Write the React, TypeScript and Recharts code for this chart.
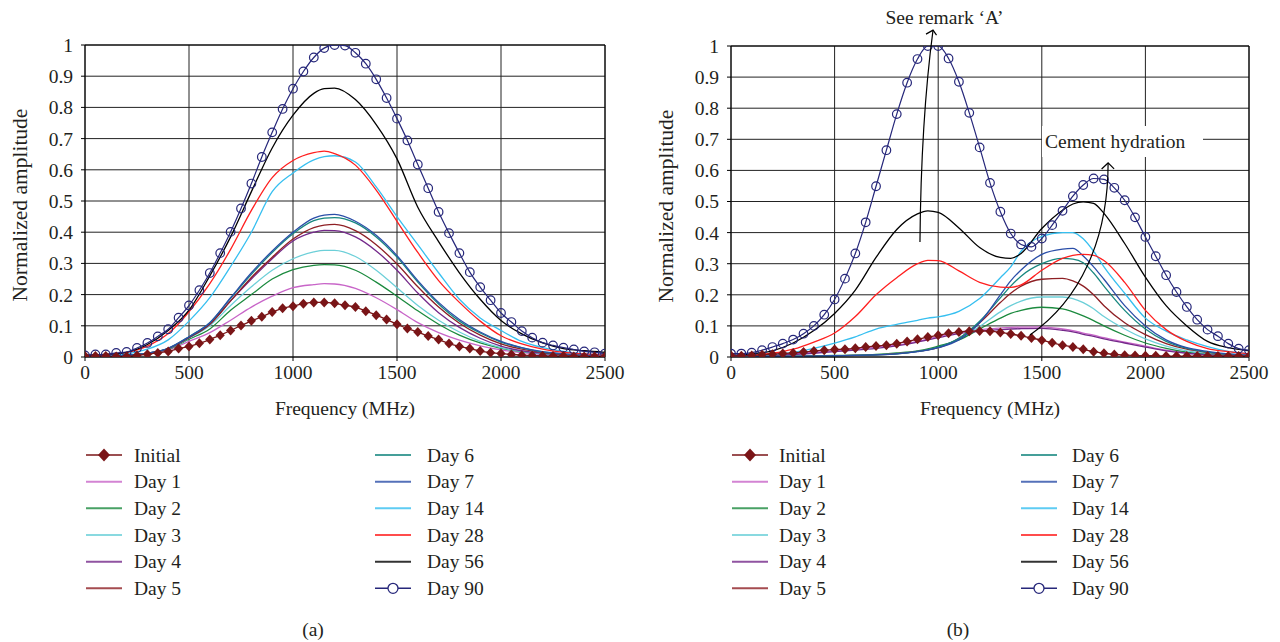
import { LineChart, Line, XAxis, YAxis, CartesianGrid, ReferenceLine } from "recharts";

const FONT = "Liberation Serif";
const INK = "#231f20";

const freq = [
  0, 50, 100, 150, 200, 250, 300, 350, 400, 450, 500, 550, 600, 650, 700, 750, 800, 850, 900, 950,
  1000, 1050, 1100, 1150, 1200, 1250, 1300, 1350, 1400, 1450, 1500, 1550, 1600, 1650, 1700, 1750,
  1800, 1850, 1900, 1950, 2000, 2050, 2100, 2150, 2200, 2250, 2300, 2350, 2400, 2450, 2500,
];
const lineFreqA = [0, 100, 200, 300, 400, 500, 600, 700, 800, 900, 1000, 1100, 1150, 1200, 1300, 1400, 1500, 1600, 1700, 1800, 1900, 2000, 2100, 2200, 2300, 2400, 2500];
const lineFreqB = [0, 100, 200, 300, 400, 500, 600, 700, 800, 900, 950, 1000, 1100, 1200, 1300, 1350, 1400, 1500, 1600, 1650, 1700, 1750, 1800, 1900, 2000, 2100, 2200, 2300, 2400, 2500];
const xTicks = [0, 500, 1000, 1500, 2000, 2500];
const yTicks = [0, 0.1, 0.2, 0.3, 0.4, 0.5, 0.6, 0.7, 0.8, 0.9, 1];

// ---- panel (a) ----
const initialA = [
  0.003, 0.003, 0.003, 0.002, 0.002, 0.005, 0.009, 0.013, 0.018, 0.027, 0.034, 0.044, 0.056, 0.07, 0.085, 0.101, 0.116,
  0.129, 0.144, 0.156, 0.163, 0.171, 0.175, 0.175, 0.172, 0.166, 0.16, 0.147, 0.134, 0.12, 0.105, 0.091, 0.08, 0.067,
  0.056, 0.043, 0.034, 0.027, 0.019, 0.014, 0.011, 0.008, 0.006, 0.005, 0.004, 0.003, 0.003, 0.002, 0.002, 0.002, 0.002,
];
const day90A = [
  0.005, 0.008, 0.008, 0.013, 0.016, 0.029, 0.045, 0.066, 0.089, 0.126, 0.165, 0.214, 0.269, 0.333, 0.401, 0.476, 0.556,
  0.641, 0.72, 0.795, 0.86, 0.915, 0.96, 0.99, 1.0, 0.998, 0.975, 0.94, 0.89, 0.83, 0.764, 0.694, 0.617, 0.541, 0.465,
  0.397, 0.333, 0.272, 0.224, 0.182, 0.141, 0.112, 0.083, 0.062, 0.046, 0.037, 0.03, 0.024, 0.018, 0.015, 0.011,
];
const day56A = [0.005, 0.008, 0.015, 0.04, 0.085, 0.15, 0.26, 0.385, 0.53, 0.67, 0.775, 0.845, 0.86, 0.862, 0.825, 0.745, 0.635, 0.48, 0.37, 0.27, 0.185, 0.117, 0.074, 0.045, 0.027, 0.02, 0.015];
const day28A = [0.005, 0.008, 0.015, 0.035, 0.075, 0.145, 0.235, 0.345, 0.47, 0.575, 0.63, 0.655, 0.66, 0.652, 0.615, 0.535, 0.435, 0.335, 0.245, 0.175, 0.115, 0.068, 0.042, 0.025, 0.015, 0.01, 0.006];
const day14A = [0.003, 0.005, 0.01, 0.025, 0.055, 0.115, 0.19, 0.29, 0.4, 0.53, 0.59, 0.632, 0.642, 0.645, 0.625, 0.545, 0.45, 0.36, 0.27, 0.185, 0.125, 0.085, 0.05, 0.03, 0.018, 0.01, 0.006];
const day7A = [0.002, 0.003, 0.005, 0.012, 0.028, 0.065, 0.11, 0.19, 0.27, 0.34, 0.4, 0.445, 0.455, 0.457, 0.435, 0.39, 0.325, 0.245, 0.175, 0.12, 0.08, 0.05, 0.03, 0.017, 0.01, 0.006, 0.004];
const day6A = [0.002, 0.003, 0.005, 0.012, 0.028, 0.065, 0.11, 0.188, 0.265, 0.335, 0.395, 0.437, 0.445, 0.447, 0.43, 0.385, 0.32, 0.24, 0.17, 0.115, 0.077, 0.048, 0.029, 0.016, 0.01, 0.006, 0.004];
const day5A = [0.002, 0.003, 0.005, 0.012, 0.027, 0.062, 0.105, 0.18, 0.255, 0.32, 0.378, 0.415, 0.423, 0.425, 0.405, 0.36, 0.298, 0.225, 0.16, 0.108, 0.07, 0.042, 0.025, 0.014, 0.008, 0.005, 0.003];
const day4A = [0.002, 0.003, 0.005, 0.012, 0.027, 0.062, 0.105, 0.18, 0.25, 0.315, 0.372, 0.4, 0.406, 0.405, 0.385, 0.34, 0.278, 0.205, 0.142, 0.095, 0.06, 0.035, 0.02, 0.012, 0.007, 0.004, 0.003];
const day3A = [0.002, 0.003, 0.005, 0.011, 0.026, 0.06, 0.1, 0.165, 0.225, 0.278, 0.315, 0.337, 0.342, 0.342, 0.322, 0.278, 0.222, 0.165, 0.118, 0.08, 0.05, 0.03, 0.018, 0.01, 0.006, 0.004, 0.003];
const day2A = [0.002, 0.003, 0.005, 0.011, 0.025, 0.057, 0.09, 0.15, 0.2, 0.25, 0.28, 0.294, 0.296, 0.295, 0.278, 0.24, 0.195, 0.148, 0.105, 0.07, 0.045, 0.028, 0.017, 0.01, 0.006, 0.004, 0.003];
const day1A = [0.002, 0.003, 0.005, 0.01, 0.022, 0.05, 0.078, 0.118, 0.16, 0.195, 0.222, 0.232, 0.235, 0.234, 0.22, 0.19, 0.152, 0.11, 0.078, 0.054, 0.036, 0.023, 0.014, 0.008, 0.005, 0.003, 0.002];

// ---- panel (b) ----
const initialB = [
  0.005, 0.004, 0.005, 0.007, 0.009, 0.011, 0.013, 0.016, 0.019, 0.022, 0.024, 0.025, 0.028, 0.032, 0.035, 0.038, 0.043,
  0.05, 0.057, 0.064, 0.07, 0.076, 0.08, 0.083, 0.084, 0.083, 0.079, 0.074, 0.068, 0.061, 0.054, 0.046, 0.038, 0.032,
  0.025, 0.017, 0.012, 0.008, 0.006, 0.005, 0.004, 0.004, 0.003, 0.003, 0.003, 0.003, 0.003, 0.003, 0.003, 0.003, 0.003,
];
const day90B = [
  0.011, 0.011, 0.014, 0.022, 0.032, 0.043, 0.056, 0.075, 0.1, 0.136, 0.185, 0.252, 0.333, 0.433, 0.549, 0.665, 0.781,
  0.882, 0.958, 1.0, 1.0, 0.96, 0.885, 0.785, 0.674, 0.56, 0.467, 0.397, 0.362, 0.354, 0.381, 0.424, 0.47, 0.517, 0.553,
  0.574, 0.571, 0.544, 0.504, 0.449, 0.386, 0.324, 0.263, 0.209, 0.161, 0.12, 0.088, 0.067, 0.043, 0.027, 0.022,
];
const day56B = [0.005, 0.01, 0.02, 0.045, 0.085, 0.14, 0.215, 0.32, 0.41, 0.46, 0.47, 0.465, 0.415, 0.352, 0.32, 0.317, 0.333, 0.413, 0.472, 0.492, 0.499, 0.494, 0.462, 0.365, 0.257, 0.165, 0.1, 0.05, 0.03, 0.02];
const day28B = [0.003, 0.006, 0.012, 0.025, 0.048, 0.077, 0.13, 0.2, 0.255, 0.3, 0.311, 0.31, 0.277, 0.24, 0.225, 0.224, 0.232, 0.279, 0.317, 0.327, 0.33, 0.327, 0.31, 0.24, 0.15, 0.088, 0.05, 0.027, 0.017, 0.01];
const day14B = [0.002, 0.004, 0.008, 0.015, 0.028, 0.045, 0.065, 0.09, 0.105, 0.118, 0.125, 0.129, 0.147, 0.188, 0.255, 0.29, 0.34, 0.388, 0.4, 0.4, 0.38, 0.34, 0.29, 0.205, 0.125, 0.083, 0.055, 0.033, 0.018, 0.01];
const day7B = [0.002, 0.002, 0.002, 0.002, 0.003, 0.004, 0.005, 0.007, 0.01, 0.017, 0.022, 0.03, 0.055, 0.11, 0.2, 0.245, 0.28, 0.33, 0.347, 0.349, 0.325, 0.29, 0.25, 0.165, 0.1, 0.055, 0.03, 0.018, 0.01, 0.006];
const day6B = [0.002, 0.002, 0.002, 0.002, 0.003, 0.004, 0.005, 0.007, 0.01, 0.018, 0.024, 0.032, 0.06, 0.115, 0.19, 0.228, 0.26, 0.3, 0.317, 0.315, 0.303, 0.27, 0.228, 0.15, 0.09, 0.05, 0.028, 0.016, 0.009, 0.005];
const day5B = [0.002, 0.002, 0.002, 0.002, 0.003, 0.004, 0.005, 0.007, 0.011, 0.018, 0.023, 0.03, 0.06, 0.11, 0.175, 0.205, 0.228, 0.25, 0.253, 0.245, 0.228, 0.2, 0.165, 0.11, 0.072, 0.043, 0.025, 0.015, 0.008, 0.005];
const day4B = [0.002, 0.003, 0.005, 0.008, 0.012, 0.017, 0.022, 0.028, 0.036, 0.048, 0.055, 0.062, 0.075, 0.083, 0.088, 0.09, 0.091, 0.092, 0.086, 0.081, 0.073, 0.066, 0.058, 0.045, 0.032, 0.02, 0.012, 0.007, 0.004, 0.003];
const day3B = [0.002, 0.002, 0.002, 0.003, 0.003, 0.004, 0.005, 0.007, 0.011, 0.018, 0.023, 0.03, 0.058, 0.098, 0.145, 0.165, 0.18, 0.193, 0.193, 0.188, 0.175, 0.155, 0.13, 0.09, 0.058, 0.035, 0.02, 0.012, 0.007, 0.004];
const day2B = [0.002, 0.002, 0.003, 0.003, 0.004, 0.005, 0.006, 0.008, 0.013, 0.02, 0.026, 0.035, 0.055, 0.09, 0.125, 0.14, 0.15, 0.16, 0.155, 0.145, 0.132, 0.117, 0.1, 0.07, 0.045, 0.028, 0.016, 0.01, 0.006, 0.004];
const day1B = [0.003, 0.004, 0.006, 0.01, 0.015, 0.02, 0.026, 0.033, 0.038, 0.05, 0.058, 0.066, 0.08, 0.088, 0.093, 0.095, 0.096, 0.097, 0.09, 0.085, 0.077, 0.07, 0.062, 0.048, 0.035, 0.022, 0.014, 0.008, 0.005, 0.003];

const seriesInfo = [
  { key: "initial", name: "Initial", color: "#7a1517" },
  { key: "d1", name: "Day 1", color: "#c865c8" },
  { key: "d2", name: "Day 2", color: "#1b8a3e" },
  { key: "d3", name: "Day 3", color: "#6ccfd8" },
  { key: "d4", name: "Day 4", color: "#74288a" },
  { key: "d5", name: "Day 5", color: "#8e1f24" },
  { key: "d6", name: "Day 6", color: "#17877f" },
  { key: "d7", name: "Day 7", color: "#2a4ea8" },
  { key: "d14", name: "Day 14", color: "#36bff0" },
  { key: "d28", name: "Day 28", color: "#ff1f1f" },
  { key: "d56", name: "Day 56", color: "#000000" },
  { key: "d90", name: "Day 90", color: "#26277a" },
];
const colorOf = (k: string) => seriesInfo.find((s) => s.key === k)!.color;
const plainKeys = ["d1", "d2", "d3", "d4", "d5", "d6", "d7", "d14", "d28", "d56"];

function buildRows(initial: number[], d90: number[], lines: Record<string, number[]>, lineFreq: number[]) {
  return freq.map((f, i) => {
    const row: any = { f, initial: initial[i], d90: d90[i] };
    const j = lineFreq.indexOf(f);
    if (j >= 0) for (const k in lines) row[k] = lines[k][j];
    return row;
  });
}

const rowsA = buildRows(initialA, day90A, { d1: day1A, d2: day2A, d3: day3A, d4: day4A, d5: day5A, d6: day6A, d7: day7A, d14: day14A, d28: day28A, d56: day56A }, lineFreqA);
const rowsB = buildRows(initialB, day90B, { d1: day1B, d2: day2B, d3: day3B, d4: day4B, d5: day5B, d6: day6B, d7: day7B, d14: day14B, d28: day28B, d56: day56B }, lineFreqB);

const Diamond = (p: any) => {
  if (p.cx == null || p.cy == null) return <g key={`dm-${p.index}`} />;
  const { cx, cy } = p;
  return <polygon key={`dm-${p.index}`} points={`${cx},${cy - 5} ${cx + 4.6},${cy} ${cx},${cy + 5} ${cx - 4.6},${cy}`} fill={colorOf("initial")} />;
};
const Ring = (p: any) => {
  if (p.cx == null || p.cy == null) return <g key={`rg-${p.index}`} />;
  return <circle key={`rg-${p.index}`} cx={p.cx} cy={p.cy} r={4.3} fill="none" stroke={colorOf("d90")} strokeWidth={1.2} />;
};

const fmt = (v: number) => (v === 0 ? "0" : v === 1 ? "1" : String(v));

function Panel({ rows, left, right, top }: { rows: any[]; left: number; right: number; top: number }) {
  return (
    <LineChart width={640} height={420} data={rows} margin={{ top, right, left: left - 60, bottom: 0 }}>
      <CartesianGrid stroke="#222" strokeWidth={1} />
      <XAxis
        type="number"
        dataKey="f"
        domain={[0, 2500]}
        ticks={xTicks}
        height={63}
        tickSize={4}
        tickMargin={4}
        stroke="#000"
        tick={{ fill: INK, fontSize: 19.5, fontFamily: FONT }}
        allowDataOverflow
      />
      <YAxis
        type="number"
        domain={[0, 1]}
        ticks={yTicks}
        width={60}
        tickSize={4}
        tickMargin={8}
        stroke="#000"
        tickFormatter={fmt}
        tick={{ fill: INK, fontSize: 19.5, fontFamily: FONT }}
        allowDataOverflow
      />
      <ReferenceLine y={1} stroke="#000" />
      <ReferenceLine x={2500} stroke="#000" />
      {plainKeys.map((k) => (
        <Line key={k} type="monotone" dataKey={k} stroke={colorOf(k)} strokeWidth={1.3} dot={false} connectNulls isAnimationActive={false} />
      ))}
      <Line type="monotone" dataKey="d90" stroke={colorOf("d90")} strokeWidth={1.2} dot={Ring} isAnimationActive={false} />
      <Line type="monotone" dataKey="initial" stroke={colorOf("initial")} strokeWidth={1.3} dot={Diamond} isAnimationActive={false} />
    </LineChart>
  );
}

// panel (b) plot box, for the annotation overlay
const B = { x0: 731, x1: 1249, y0: 357, y1: 46 };
const bx = (f: number) => B.x0 + (f / 2500) * (B.x1 - B.x0);
const by = (a: number) => B.y0 - a * (B.y0 - B.y1);

const legendRows = [455, 481.7, 508.3, 535, 561.7, 588.3];

function LegendBlock({ iconX, textX, col2IconX, col2TextX }: { iconX: number; textX: number; col2IconX: number; col2TextX: number }) {
  return (
    <g>
      {seriesInfo.map((s, i) => {
        const col = i < 6 ? 0 : 1;
        const y = legendRows[i % 6];
        const x0 = col === 0 ? iconX : col2IconX;
        const tx = col === 0 ? textX : col2TextX;
        const cx = x0 + 18;
        const marked = s.key === "initial" || s.key === "d90";
        return (
          <g key={s.key}>
            <line x1={x0} x2={x0 + 36} y1={y} y2={y} stroke={s.color} strokeWidth={marked ? 1.4 : 2} strokeOpacity={marked ? 1 : 0.8} />
            {s.key === "initial" && <polygon points={`${cx},${y - 6.5} ${cx + 6},${y} ${cx},${y + 6.5} ${cx - 6},${y}`} fill={s.color} />}
            {s.key === "d90" && <circle cx={cx} cy={y} r={5} fill="#fff" stroke={s.color} strokeWidth={1.3} />}
            <text x={tx} y={y} dominantBaseline="central" fontSize={19.5} fontFamily={FONT} fill={INK}>
              {s.name}
            </text>
          </g>
        );
      })}
    </g>
  );
}

const remarkTail = { f: 912, a: 0.37 };
const remarkCtrl = { f: 917, a: 0.76 };
const remarkTip = { f: 975, a: 1.051 };
const hydTail = { f: 1443, a: 0.071 };
const hydC1 = { f: 1684, a: 0.183 };
const hydC2 = { f: 1820, a: 0.376 };
const hydTip = { f: 1820, a: 0.624 };

export default function App() {
  const rt = { x: bx(remarkTip.f), y: by(remarkTip.a) };
  const ht = { x: bx(hydTip.f), y: by(hydTip.a) };
  return (
    <div style={{ position: "absolute", left: 0, top: 0, width: 1280, height: 642, background: "#fff", overflow: "hidden" }}>
      <div style={{ position: "absolute", left: 0, top: 0 }}>
        <Panel rows={rowsA} left={85} right={35} top={45} />
      </div>
      <div style={{ position: "absolute", left: 640, top: 0 }}>
        <Panel rows={rowsB} left={91} right={31} top={46} />
      </div>
      <svg width={1280} height={642} style={{ position: "absolute", left: 0, top: 0, pointerEvents: "none" }}>
        <g fontFamily={FONT} fill={INK} fontSize={19.5}>
          <text x={345} y={408} textAnchor="middle" dominantBaseline="central">Frequency (MHz)</text>
          <text x={990} y={408} textAnchor="middle" dominantBaseline="central">Frequency (MHz)</text>
          <text transform="translate(20,205) rotate(-90)" textAnchor="middle" dominantBaseline="central" fontSize={21.5}>Normalized amplitude</text>
          <text transform="translate(666,206) rotate(-90)" textAnchor="middle" dominantBaseline="central" fontSize={21.5}>Normalized amplitude</text>
          <text x={313} y={629} textAnchor="middle" dominantBaseline="central">(a)</text>
          <text x={958} y={629} textAnchor="middle" dominantBaseline="central">(b)</text>
        </g>
        <LegendBlock iconX={86} textX={134} col2IconX={375} col2TextX={427} />
        <LegendBlock iconX={732} textX={779} col2IconX={1021} col2TextX={1072} />

        {/* see remark A */}
        <path
          d={`M${bx(remarkTail.f)},${by(remarkTail.a)} Q${bx(remarkCtrl.f)},${by(remarkCtrl.a)} ${rt.x},${rt.y}`}
          fill="none"
          stroke="#000"
          strokeWidth={1.2}
        />
        <polyline points={`${rt.x - 7},${rt.y + 4} ${rt.x},${rt.y} ${rt.x + 3.5},${rt.y + 5}`} fill="none" stroke="#000" strokeWidth={1.2} />
        <text x={bx(1030)} y={17} textAnchor="middle" dominantBaseline="central" fontFamily={FONT} fontSize={19.5} fill={INK}>
          See remark ‘A’
        </text>

        {/* cement hydration */}
        <rect x={1042} y={126} width={161} height={31} fill="#fff" />
        <text x={1045} y={141.5} dominantBaseline="central" fontFamily={FONT} fontSize={19.5} fill={INK}>
          Cement hydration
        </text>
        <path
          d={`M${bx(hydTail.f)},${by(hydTail.a)} C${bx(hydC1.f)},${by(hydC1.a)} ${bx(hydC2.f)},${by(hydC2.a)} ${ht.x},${ht.y}`}
          fill="none"
          stroke="#000"
          strokeWidth={1.2}
        />
        <polyline points={`${ht.x - 6.5},${ht.y + 6} ${ht.x},${ht.y} ${ht.x + 6},${ht.y + 6}`} fill="none" stroke="#000" strokeWidth={1.2} />
      </svg>
    </div>
  );
}
